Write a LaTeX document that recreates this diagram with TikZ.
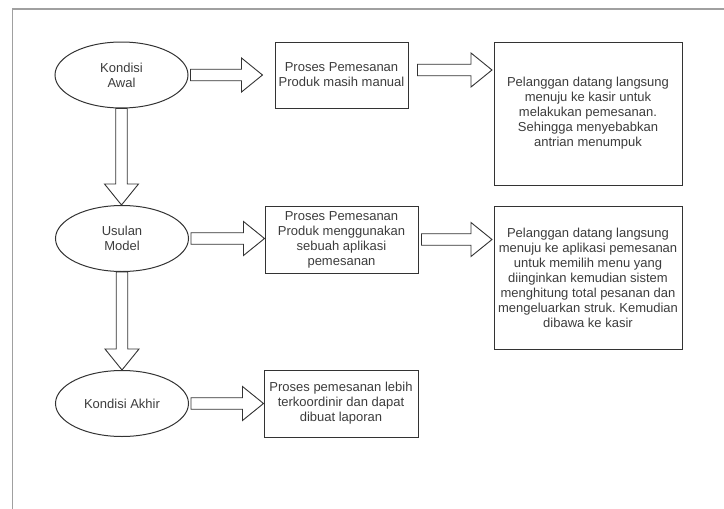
\documentclass[tikz,border=0pt]{standalone}
\usepackage{fontspec}
\setmainfont{Liberation Sans}
\usetikzlibrary{shapes.geometric,calc}
\frenchspacing

\definecolor{ink}{HTML}{333333}
\definecolor{txt}{HTML}{3C3C3C}
\definecolor{framec}{HTML}{A0A0A0}

% hollow block arrow from coordinate #1 (tail) to coordinate #2 (tip)
\newcommand\fatarrow[2]{%
  \draw[fatline]
    ($(#1)!5.75pt!90:(#2)$) --
    ($($(#2)!21pt!(#1)$)!5.75pt!90:(#2)$) --
    ($($(#2)!21pt!(#1)$)!17pt!90:(#2)$) --
    (#2) --
    ($($(#2)!21pt!(#1)$)!17pt!-90:(#2)$) --
    ($($(#2)!21pt!(#1)$)!5.75pt!-90:(#2)$) --
    ($(#1)!5.75pt!-90:(#2)$) -- cycle;}

\begin{document}
\begin{tikzpicture}[x=1pt,y=-1pt,
  every node/.style={text=txt, font=\fontsize{13}{15}\selectfont, align=center, inner sep=0pt},
  oval/.style={ellipse, draw=ink, line width=1pt, minimum width=133pt, minimum height=66pt},
  infobox/.style={rectangle, draw=ink, line width=1pt},
  fatline/.style={draw=ink, fill=white, line width=0.9pt, line join=miter},
  framestyle/.style={draw=framec, line width=1.6pt}]
\useasboundingbox (0,0) rectangle (724,509);

% page frame
\draw[framestyle] (12.5,509) -- (12.5,9) -- (724,9);

% left column: conditions
\node[oval] (awal)   at (121.5,75)    {Kondisi\\Awal};
\node[oval] (usulan) at (122,238.5)   {Usulan\\Model};
\node[oval] (akhir)  at (122,403.5)   {Kondisi Akhir};

% middle column: processes
\node[infobox, minimum width=133pt, minimum height=66pt] (manual) at (341.5,75)
  {Proses Pemesanan\\Produk masih manual};
\node[infobox, minimum width=153pt, minimum height=67pt] (aplikasi) at (341.5,239.5)
  {Proses Pemesanan\\Produk menggunakan\\sebuah aplikasi\\pemesanan};
\node[infobox, minimum width=154pt, minimum height=67pt] (laporan) at (341,403.5)
  {Proses pemesanan lebih\\terkoordinir dan dapat\\dibuat laporan};

% right column: descriptions
\node[infobox, minimum width=188pt, minimum height=143pt] (antri) at (588,113.5)
  {Pelanggan datang langsung\\menuju ke kasir untuk\\melakukan pemesanan.\\Sehingga menyebabkan\\antrian menumpuk};
\node[infobox, minimum width=188pt, minimum height=143pt] (sistem) at (588,277.5)
  {Pelanggan datang langsung\\menuju ke aplikasi pemesanan\\untuk memilih menu yang\\diinginkan kemudian sistem\\menghitung total pesanan dan\\mengeluarkan struk. Kemudian\\dibawa ke kasir};

% arrow end points
\coordinate (v1s) at (awal.south);
\coordinate (v1e) at (awal.south |- usulan.north);
\coordinate (v2s) at (usulan.south);
\coordinate (v2e) at (usulan.south |- akhir.north);
\coordinate (h1s) at ($(awal.east)+(2,0)$);
\coordinate (h1e) at ($(awal.east -| manual.west)+(-12,0)$);
\coordinate (h2s) at ($(manual.east)+(9,-5)$);
\coordinate (h2e) at ($(h2s -| antri.west)+(-1.5,0)$);
\coordinate (h3s) at ($(usulan.east)+(2,0)$);
\coordinate (h3e) at (usulan.east -| aplikasi.west);
\coordinate (h4s) at ($(aplikasi.east)+(3,0)$);
\coordinate (h4e) at ($(aplikasi.east -| sistem.west)+(-1.5,0)$);
\coordinate (h5s) at ($(akhir.east)+(2,0)$);
\coordinate (h5e) at (akhir.east -| laporan.west);

\fatarrow{v1s}{v1e}
\fatarrow{v2s}{v2e}
\fatarrow{h1s}{h1e}
\fatarrow{h2s}{h2e}
\fatarrow{h3s}{h3e}
\fatarrow{h4s}{h4e}
\fatarrow{h5s}{h5e}
\end{tikzpicture}
\end{document}
